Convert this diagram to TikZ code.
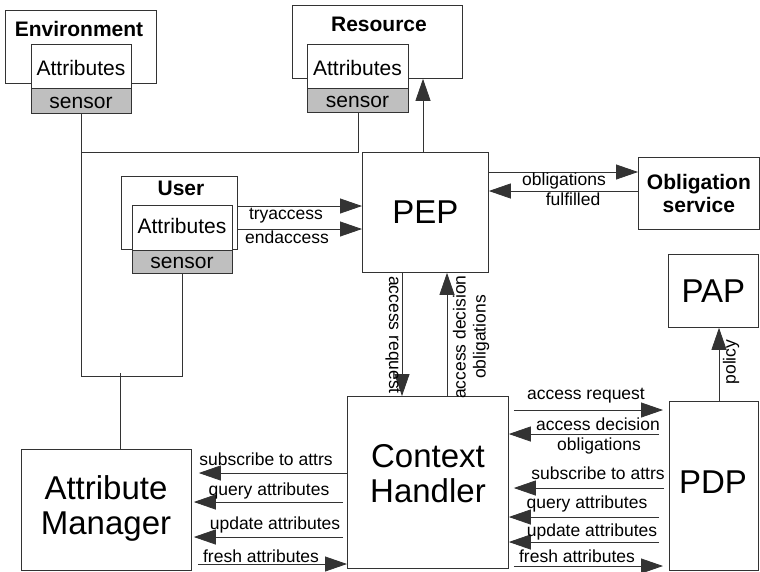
\documentclass[tikz,border=0pt]{standalone}
\usepackage{fontspec}
\setmainfont{Liberation Sans}
\usetikzlibrary{arrows.meta}
\begin{document}
\begin{tikzpicture}[x=1pt,y=-1pt,
  box/.style={draw=black!80,line width=0.8pt,fill=white,inner sep=0pt,anchor=north west},
  sens/.style={box,fill=black!25},
  lnk/.style={draw=black!80,line width=0.8pt},
  arr/.style={lnk,-{Triangle[length=22pt,width=15pt]}},
  ttl/.style={font=\fontsize{21}{24}\selectfont\bfseries,anchor=base,inner sep=0pt},
  att/.style={font=\fontsize{21}{24}\selectfont,anchor=base,inner sep=0pt},
  lbl/.style={font=\fontsize{17.5}{20}\selectfont,anchor=base,inner sep=0pt},
  big/.style={font=\fontsize{33}{35}\selectfont,align=center},
]
\useasboundingbox (0,0) rectangle (760,571);

% rows and columns used by the connectors
\coordinate (yTop) at (0,152);
\coordinate (yBus) at (0,376);
\coordinate (jAM) at (120,373);
\coordinate (xRes) at (423,0);
\coordinate (yTry) at (0,206);
\coordinate (yEnd) at (0,229);
\coordinate (yObl) at (0,172);
\coordinate (yFul) at (0,191);
\coordinate (xReq) at (402,0);
\coordinate (xDec) at (447,0);
\coordinate (xPol) at (719,0);
\coordinate (rReq) at (0,410);
\coordinate (rDec) at (0,434);
\coordinate (rSub) at (0,488);
\coordinate (rQry) at (0,517);
\coordinate (rUpd) at (0,542);
\coordinate (rFre) at (0,566);
\coordinate (lSub) at (0,473);
\coordinate (lQry) at (0,502);
\coordinate (lUpd) at (0,537);
\coordinate (lFre) at (0,564);

% Environment
\node[box,minimum width=151pt,minimum height=73pt] (env) at (5,10) {};
\node[ttl] (envT) at (79,36) {Environment};
\node[box,minimum width=100pt,minimum height=44pt] (envA) at (31,44) {};
\node[att] (envAt) at (81,75) {Attributes};
\node[sens,minimum width=100pt,minimum height=25pt] (envS) at (31,88) {};
\node[att] (envSt) at (81,108) {sensor};

% Resource
\node[box,minimum width=170pt,minimum height=73pt] (res) at (292,5) {};
\node[ttl] (resT) at (379,31) {Resource};
\node[box,minimum width=101pt,minimum height=44pt] (resA) at (307,44) {};
\node[att] (resAt) at (357.5,75) {Attributes};
\node[sens,minimum width=101pt,minimum height=24pt] (resS) at (307,88) {};
\node[att] (resSt) at (357.5,107) {sensor};

% User
\node[box,minimum width=116pt,minimum height=73pt] (usr) at (121,176) {};
\node[ttl] (usrT) at (181,195) {User};
\node[box,minimum width=100pt,minimum height=45pt] (usrA) at (132,205) {};
\node[att] (usrAt) at (182,233) {Attributes};
\node[sens,minimum width=100pt,minimum height=23pt] (usrS) at (132,250) {};
\node[att] (usrSt) at (182,268) {sensor};

% main components
\node[box,big,minimum width=126pt,minimum height=120pt] (pep) at (362,152) {PEP};
\node[box,font=\fontsize{21}{23}\selectfont\bfseries,align=center,
      minimum width=121pt,minimum height=72pt] (obl) at (638,157) {Obligation\\service};
\node[box,big,minimum width=90pt,minimum height=73pt] (pap) at (668,254) {PAP};
\node[box,minimum width=89pt,minimum height=169pt] (pdp) at (669,401) {};
\node[big] (pdpT) at (713,482) {PDP};
\node[box,minimum width=161pt,minimum height=172pt] (ch) at (347,396) {};
\node[big] (chT) at (428,474) {Context\\Handler};
\node[box,minimum width=170pt,minimum height=121pt] (am) at (21,449) {};
\node[big] (amT) at (106,508) {Attribute\\Manager};

% sensor wiring
\draw[lnk] (envS.south |- yTop) -- (resS.south |- yTop) -- (resS.south);
\draw[lnk] (usrS.south) -- (usrS.south |- yBus) -- (envS.south |- yBus) -- (envS.south);
\draw[lnk] (jAM) -- (jAM |- am.north);

% PEP connections
\draw[arr] (pep.north -| xRes) -- (res.south -| xRes);
\draw[arr] (usr.east |- yTry) -- (pep.west |- yTry);
\draw[arr] (usr.east |- yEnd) -- (pep.west |- yEnd);
\draw[arr] (pep.east |- yObl) -- (obl.west |- yObl);
\draw[arr] (obl.west |- yFul) -- (pep.east |- yFul);
\draw[arr] (pep.south -| xReq) -- (ch.north -| xReq);
\draw[arr] (ch.north -| xDec) -- (pep.south -| xDec);
\draw[arr] (pdp.north -| xPol) -- (pap.south -| xPol);

% Context Handler <-> PDP
\draw[arr,shorten <=5pt,shorten >=6pt] (ch.east |- rReq) -- (pdp.west |- rReq);
\draw[arr,shorten <=10pt] (pdp.west |- rDec) -- (ch.east |- rDec);
\draw[arr,shorten <=5pt,shorten >=5pt] (pdp.west |- rSub) -- (ch.east |- rSub);
\draw[arr,shorten <=10pt] (pdp.west |- rQry) -- (ch.east |- rQry);
\draw[arr,shorten <=10pt] (pdp.west |- rUpd) -- (ch.east |- rUpd);
\draw[arr,shorten <=5pt,shorten >=6pt] (ch.east |- rFre) -- (pdp.west |- rFre);

% Context Handler <-> Attribute Manager
\draw[arr,shorten >=7pt] (ch.west |- lSub) -- (am.east |- lSub);
\draw[arr,shorten <=4pt,shorten >=2pt] (ch.west |- lQry) -- (am.east |- lQry);
\draw[arr,shorten <=4pt,shorten >=2pt] (ch.west |- lUpd) -- (am.east |- lUpd);
\draw[arr,shorten <=6pt] (am.east |- lFre) -- (ch.west |- lFre);

% connector labels
\node[lbl] (tTry) at (286,219) {tryaccess};
\node[lbl] (tEnd) at (287,243) {endaccess};
\node[lbl] (tObl) at (564,185) {obligations};
\node[lbl] (tFul) at (573,205) {fulfilled};
\node[lbl,rotate=-90,anchor=center] (tReq) at (393,335) {access request};
\node[lbl,rotate=90,anchor=center,align=center] (tDec) at (471,337) {access decision\\obligations};
\node[lbl,rotate=90,anchor=center] (tPol) at (731,362) {policy};

\node[lbl] (rtReq) at (586,399) {access request};
\node[lbl] (rtDec) at (598,430) {access decision};
\node[lbl] (rtObl) at (599,450) {obligations};
\node[lbl] (rtSub) at (598,479) {subscribe to attrs};
\node[lbl] (rtQry) at (587,508) {query attributes};
\node[lbl] (rtUpd) at (592,536) {update attributes};
\node[lbl] (rtFre) at (577,562) {fresh attributes};

\node[lbl] (ltSub) at (266,465) {subscribe to attrs};
\node[lbl] (ltQry) at (269,495) {query attributes};
\node[lbl] (ltUpd) at (275,529) {update attributes};
\node[lbl] (ltFre) at (261,562) {fresh attributes};
\end{tikzpicture}
\end{document}
